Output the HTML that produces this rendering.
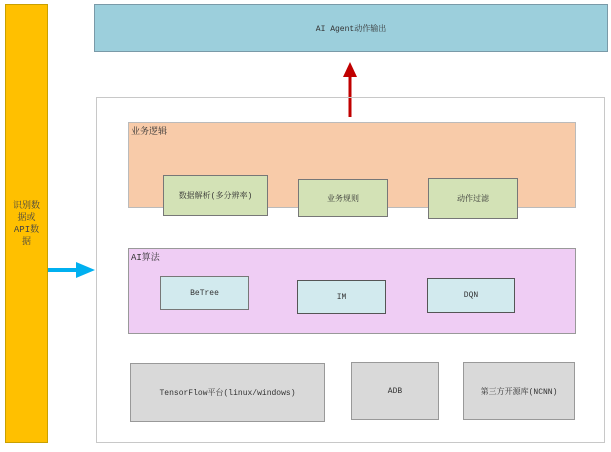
<!DOCTYPE html>
<html><head><meta charset="utf-8"><style>
body{margin:0;width:611px;height:452px;background:#fff;position:relative;overflow:hidden;font-family:"Liberation Mono","Noto Serif CJK SC","Noto Sans CJK SC",monospace;font-size:8px;color:#333}
.b{position:absolute;box-sizing:border-box;display:flex;align-items:center;justify-content:center;text-align:center}
</style></head><body>
<div class="b" style="left:5px;top:4px;width:43px;height:439px;background:#ffc000;border:1px solid #c9a000;font-size:9px;line-height:12px;color:#444">识别数<br>据或<br>API数<br>据</div>
<div class="b" style="left:94px;top:4px;width:514px;height:48px;background:#9ccfdc;border:1px solid #7a9aa8;color:#333">AI Agent动作输出</div>
<svg style="position:absolute;left:0;top:0" width="611" height="452">
<line x1="350" y1="117" x2="350" y2="76" stroke="#c00000" stroke-width="3"/>
<polygon points="343,77 357,77 350,62" fill="#c00000"/>
<line x1="48" y1="270" x2="80" y2="270" stroke="#00b0f0" stroke-width="4"/>
<polygon points="76,262 76,278 95,270" fill="#00b0f0"/>
</svg>
<div class="b" style="left:96px;top:97px;width:509px;height:346px;border:1px solid #c8c8c8"></div>
<div class="b" style="left:128px;top:122px;width:448px;height:86px;background:#f8cba9;border:1px solid #bbb"></div>
<div style="position:absolute;left:131px;top:124px;font-size:9px">业务逻辑</div>
<div class="b" style="left:163px;top:175px;width:105px;height:41px;background:#d3e2b6;border:1px solid #777">数据解析(多分辨率)</div>
<div class="b" style="left:298px;top:179px;width:90px;height:38px;background:#d3e2b6;border:1px solid #777">业务规则</div>
<div class="b" style="left:428px;top:178px;width:90px;height:41px;background:#d3e2b6;border:1px solid #777">动作过滤</div>
<div class="b" style="left:128px;top:248px;width:448px;height:86px;background:#efcdf4;border:1px solid #999"></div>
<div style="position:absolute;left:131px;top:250px;font-size:9px">AI算法</div>
<div class="b" style="left:160px;top:276px;width:89px;height:34px;background:#d2eaee;border:1px solid #777">BeTree</div>
<div class="b" style="left:297px;top:280px;width:89px;height:34px;background:#d2eaee;border:1px solid #555">IM</div>
<div class="b" style="left:427px;top:278px;width:88px;height:35px;background:#d2eaee;border:1px solid #555">DQN</div>
<div class="b" style="left:130px;top:363px;width:195px;height:59px;background:#d9d9d9;border:1px solid #999">TensorFlow平台(linux/windows)</div>
<div class="b" style="left:351px;top:362px;width:88px;height:58px;background:#d9d9d9;border:1px solid #999">ADB</div>
<div class="b" style="left:463px;top:362px;width:112px;height:58px;background:#d9d9d9;border:1px solid #999">第三方开源库(NCNN)</div>
</body></html>
